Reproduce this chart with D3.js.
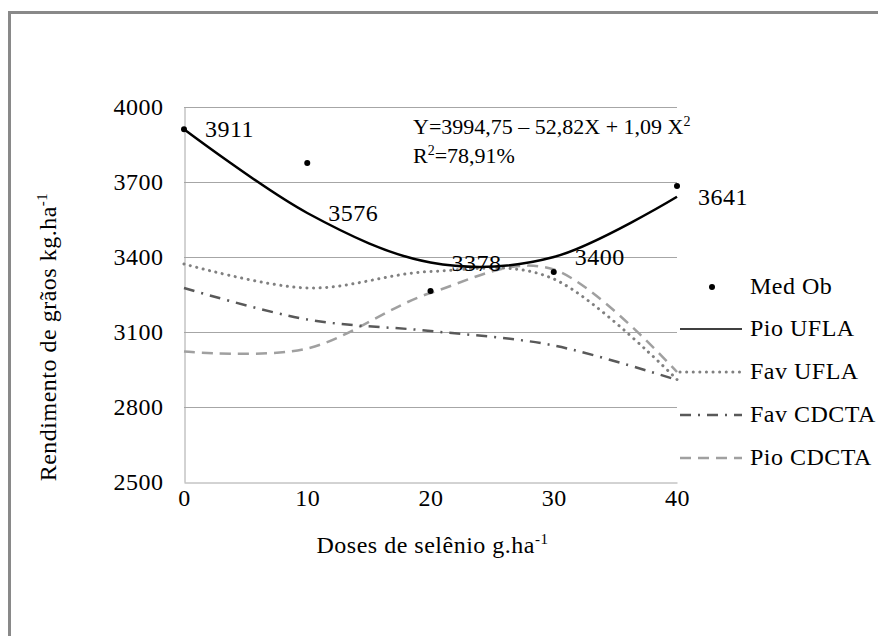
<!DOCTYPE html>
<html>
<head>
  <meta charset="UTF-8">
  <title>Rendimento de graos x doses de selenio</title>
  <script src="https://cdn.jsdelivr.net/npm/d3@7/dist/d3.min.js"></script>
  <style>
    body { margin: 0; background: #fff; }
    svg text { font-family: "Liberation Serif", "Times New Roman", serif; }
  </style>
</head>
<body>
<script>
  // data
  var doses = [0, 10, 20, 30, 40];
  var medOb = [3911, 3776, 3264, 3340, 3684];
  var pioUFLA = [3911, 3576, 3378, 3400, 3641];
  var favUFLA = [3372, 3276, 3342, 3312, 2910];
  var favCDCTA = [3276, 3150, 3104, 3046, 2908];
  var pioCDCTA = [3022, 3034, 3256, 3350, 2940];
  var pointLabels = ["3911", "3576", "3378", "3400", "3641"];
  var yTicks = [2500, 2800, 3100, 3400, 3700, 4000];
  var xTicks = [0, 10, 20, 30, 40];

  var W = 878, H = 636;
  var margin = {left: 184, right: 201, top: 107, bottom: 154};
  var FONT = "Liberation Serif";
  var FS = "24px";

  var svg = d3.select("body").append("svg")
      .attr("width", W).attr("height", H);

  // outer frame (only top and left edges are in view)
  svg.append("path")
      .attr("d", "M9.5," + H + "V12.5H" + W)
      .attr("fill", "none").attr("stroke", "#898989").attr("stroke-width", 3);

  var x = d3.scaleLinear().domain([0, 40]).range([margin.left, W - margin.right]);
  var y = d3.scaleLinear().domain([2500, 4000]).range([H - margin.bottom, margin.top]);

  // the source text is a bit wide, so spread letters slightly
  function txt(sel) {
    return sel.style("font-family", FONT).style("font-size", FS)
        .style("letter-spacing", "0.5px").attr("fill", "#000");
  }

  // grid lines
  svg.append("g").selectAll("line")
      .data(yTicks.slice(1))
    .enter().append("line")
      .attr("x1", x(0)).attr("x2", x(40))
      .attr("y1", function(d) { return Math.round(y(d)) + 0.5; })
      .attr("y2", function(d) { return Math.round(y(d)) + 0.5; })
      .attr("stroke", "#a6a6a6").attr("stroke-width", 1);

  // axes
  var yAxis = svg.append("g")
      .attr("transform", "translate(" + (x(0) + 0.5) + ",0)")
      .call(d3.axisLeft(y).tickValues(yTicks).tickFormat(d3.format("d")).tickSize(0).tickPadding(21));
  var xAxis = svg.append("g")
      .attr("transform", "translate(0," + (y(2500) + 0.5) + ")")
      .call(d3.axisBottom(x).tickValues(xTicks).tickFormat(d3.format("d")).tickSize(0).tickPadding(6));
  [xAxis, yAxis].forEach(function(a) {
    a.attr("font-family", null).attr("font-size", null);
    a.select(".domain").attr("stroke", "#a6a6a6");
    txt(a.selectAll("text"));
  });

  // axis titles
  var yt = txt(svg.append("text"))
      .attr("transform", "translate(56,337) rotate(-90)")
      .attr("text-anchor", "middle");
  yt.append("tspan").text("Rendimento de grãos kg.ha");
  yt.append("tspan").attr("dy", -9).style("font-size", "15px").text("-1");

  var xt = txt(svg.append("text"))
      .attr("x", x(20) + 2).attr("y", 553)
      .attr("text-anchor", "middle");
  xt.append("tspan").text("Doses de selênio g.ha");
  xt.append("tspan").attr("dy", -9).style("font-size", "15px").text("-1");

  // series lines
  var line = d3.line()
      .x(function(d, i) { return x(doses[i]); })
      .y(function(d) { return y(d); })
      .curve(d3.curveCatmullRom.alpha(0));

  var series = [
    {name: "Pio UFLA", values: pioUFLA, color: "#000", dash: null, cap: "butt", width: 2.5},
    {name: "Fav UFLA", values: favUFLA, color: "#808080", dash: "0.1,6.5", cap: "round", width: 3},
    {name: "Fav CDCTA", values: favCDCTA, color: "#595959", dash: "11,7,2,7", cap: "butt", width: 2.5},
    {name: "Pio CDCTA", values: pioCDCTA, color: "#a0a0a0", dash: "11,7", cap: "butt", width: 2.5}
  ];

  svg.append("g").selectAll("path")
      .data(series.slice().reverse())
    .enter().append("path")
      .attr("d", function(d) { return line(d.values); })
      .attr("fill", "none")
      .attr("stroke", function(d) { return d.color; })
      .attr("stroke-width", function(d) { return d.width; })
      .attr("stroke-dasharray", function(d) { return d.dash; })
      .attr("stroke-linecap", function(d) { return d.cap; });

  // observed means
  svg.append("g").selectAll("circle")
      .data(medOb)
    .enter().append("circle")
      .attr("cx", function(d, i) { return x(doses[i]); })
      .attr("cy", function(d) { return y(d); })
      .attr("r", 3).attr("fill", "#000");

  // data labels for Pio UFLA
  txt(svg.append("g").selectAll("text")
      .data(pioUFLA)
    .enter().append("text"))
      .attr("x", function(d, i) { return x(doses[i]) + 21; })
      .attr("y", function(d) { return y(d) + 8; })
      .text(function(d, i) { return pointLabels[i]; });

  // regression equation
  var eq = txt(svg.append("text")).attr("x", 413).attr("y", 134)
      .style("font-size", "22px").style("letter-spacing", "0px");
  eq.append("tspan").text("Y=3994,75 \u2013 52,82X + 1,09 X");
  eq.append("tspan").attr("dy", -8).style("font-size", "14px").text("2");
  var r2 = txt(svg.append("text")).attr("x", 413).attr("y", 163)
      .style("font-size", "22px").style("letter-spacing", "0px");
  r2.append("tspan").text("R");
  r2.append("tspan").attr("dy", -8).style("font-size", "14px").text("2");
  r2.append("tspan").attr("dy", 8).text("=78,91%");

  // legend
  var legendX = 680, legendTextX = 750, legendTop = 287, legendStep = 43;
  var legend = svg.append("g");
  legend.append("circle")
      .attr("cx", 712).attr("cy", legendTop).attr("r", 3).attr("fill", "#000");
  txt(legend.append("text"))
      .attr("x", legendTextX).attr("y", legendTop + 7)
      .text("Med Ob");
  series.forEach(function(s, i) {
    var ly = legendTop + legendStep * (i + 1) - 1;
    legend.append("line")
        .attr("x1", legendX).attr("x2", 742)
        .attr("y1", ly).attr("y2", ly)
        .attr("stroke", s.color)
        .attr("stroke-width", s.name === "Pio UFLA" ? 1.5 : s.width)
        .attr("stroke-dasharray", s.dash)
        .attr("stroke-linecap", s.cap);
    txt(legend.append("text"))
        .attr("x", legendTextX).attr("y", ly + 7)
        .text(s.name);
  });
</script>
</body>
</html>
